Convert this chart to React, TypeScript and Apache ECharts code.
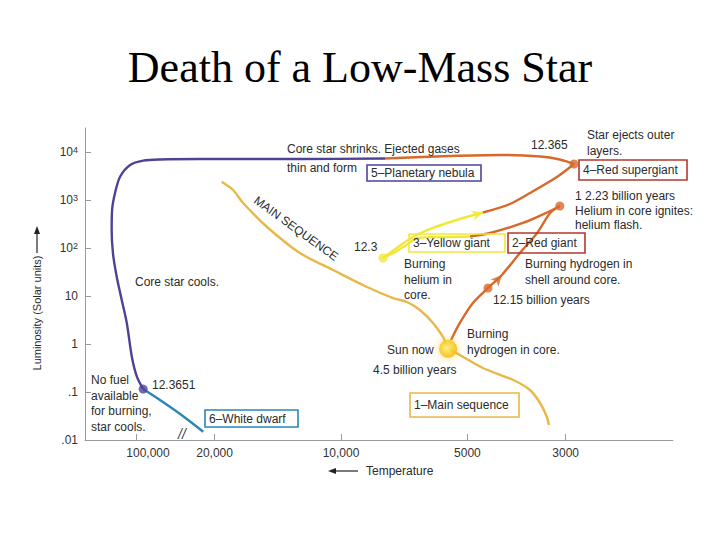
import React, { useEffect, useRef } from 'react';
import * as echarts from 'echarts';

// ---- Axis ticks (x = log10 temperature as drawn, with a break at 100,000; y = log10 luminosity)
const xTickPos = [4.488, 4.301, 4.0, 3.699, 3.465];
const xTickLabels = ['100,000', '20,000', '10,000', '5000', '3000'];
const yTickPos = [-2, -1, 0, 1, 2, 3, 4];
const yTickLabels = ['.01', '.1', '1', '10', '10{sup|2}', '10{sup|3}', '10{sup|4}'];

// ---- Tracks: [log10 T (as drawn), log10 L]
const mainSequence = [
  [4.284, 3.381], [4.257, 3.208], [4.233, 2.938], [4.176, 2.438], [4.098, 1.896],
  [4.019, 1.542], [3.938, 1.188], [3.876, 0.958], [3.843, 0.875], [3.812, 0.708],
  [3.781, 0.438], [3.757, 0.146], [3.745, -0.083], [3.717, -0.229], [3.662, -0.5],
  [3.59, -0.75], [3.55, -0.958], [3.526, -1.229], [3.51, -1.515], [3.505, -1.688],
];
const redGiantBranch = [
  [3.738, 0.083], [3.717, 0.438], [3.686, 0.854], [3.65, 1.167], [3.617, 1.438],
  [3.574, 1.896], [3.533, 2.313], [3.502, 2.729], [3.479, 2.875],
];
const flashToYellowOrange = [
  [3.479, 2.875], [3.507, 2.75], [3.567, 2.521], [3.645, 2.313], [3.693, 2.24],
];
const flashToYellowYellow = [
  [3.693, 2.24], [3.764, 2.229], [3.817, 2.208], [3.848, 2.042], [3.871, 1.917], [3.9, 1.792],
];
const yellowToSupergiantYellow = [
  [3.9, 1.792], [3.864, 2.021], [3.829, 2.229], [3.781, 2.417], [3.717, 2.604], [3.662, 2.74],
];
const yellowToSupergiantOrange = [
  [3.662, 2.74], [3.598, 2.917], [3.55, 3.146], [3.486, 3.479], [3.445, 3.75],
];
const supergiantToNebula = [
  [3.445, 3.75], [3.479, 3.844], [3.526, 3.906], [3.621, 3.938], [3.74, 3.917], [3.895, 3.865],
];
const nebulaToWhiteDwarf = [
  [3.895, 3.865], [4.098, 3.854], [4.336, 3.854], [4.431, 3.844], [4.471, 3.819],
  [4.502, 3.729], [4.526, 3.485], [4.538, 3.146], [4.545, 2.792], [4.546, 2.375],
  [4.543, 1.896], [4.534, 1.402], [4.522, 0.917], [4.51, 0.438], [4.498, -0.265],
  [4.486, -0.681], [4.471, -0.938],
];
const whiteDwarf = [[4.471, -0.938], [4.431, -1.167], [4.383, -1.458], [4.328, -1.827]];

// ---- Stage markers
const orangeDots = [[3.445, 3.75], [3.479, 2.875], [3.65, 1.167]];
const yellowDots = [[3.9, 1.792]];
const purpleDots = [[4.471, -0.938]];
const sunNow = [[3.745, -0.1]];
const yellowArrow = [[3.662, 2.74]];
const orangeArrow = [[3.617, 1.438]];

const PURPLE = '#4f4296';
const ORANGE = '#d8692a';
const GOLD = '#e8b848';
const YELLOW = '#f0e838';
const BLUE = '#2a86b8';
const DARKRED = '#b2392e';
const TXT = '#2b2b2b';
const AXIS = '#9a9a9a';
const FONT = '"Liberation Sans", Arial, sans-serif';

const txt = (x: number, y: number, text: string, extra: any = {}) => ({
  type: 'text',
  x,
  y,
  z: 20,
  silent: true,
  style: {
    text,
    fill: TXT,
    font: `12px ${FONT}`,
    align: 'left',
    verticalAlign: 'middle',
    textAlign: 'left',
    textVerticalAlign: 'middle',
    ...extra,
  },
});

const box = (x: number, y: number, w: number, h: number, color: string, label: string) => [
  {
    type: 'rect',
    z: 19,
    silent: true,
    shape: { x, y, width: w, height: h },
    style: { fill: 'rgba(0,0,0,0)', stroke: color, lineWidth: 1.6 },
  },
  txt(x + 4, y + h / 2, label),
];

function lineSeries(data: number[][], color: string, z = 2) {
  return {
    type: 'line',
    data,
    showSymbol: false,
    smooth: 0.3,
    silent: true,
    z,
    lineStyle: { color, width: 2.4 },
  };
}

export default function App() {
  const ref = useRef<HTMLDivElement>(null);

  useEffect(() => {
    if (!ref.current) return;
    const chart = echarts.init(ref.current, undefined, { renderer: 'svg' });

    const option: any = {
      animation: false,
      backgroundColor: '#ffffff',
      grid: { left: 85, right: 47, top: 128, bottom: 100, outerBoundsMode: 'none' },
      xAxis: {
        type: 'value',
        min: 3.2095,
        max: 4.6095,
        inverse: true,
        splitLine: { show: false },
        axisLine: { show: true, onZero: false, lineStyle: { color: AXIS, width: 1 } },
        axisTick: { show: true, inside: true, length: 6, customValues: xTickPos, lineStyle: { color: AXIS } },
        axisLabel: {
          customValues: xTickPos,
          margin: 7,
          color: '#333',
          fontSize: 12,
          fontFamily: FONT,
          formatter: (v: number) => {
            const i = xTickPos.findIndex((p) => Math.abs(p - v) < 1e-6);
            if (i < 0) return '';
            return i === 0 ? `{shift|${xTickLabels[i]}}` : xTickLabels[i];
          },
          rich: { shift: { padding: [0, 0, 0, 24], fontSize: 12, color: '#333', fontFamily: FONT } },
        },
      },
      yAxis: {
        type: 'value',
        min: -2,
        max: 4.5,
        splitLine: { show: false },
        axisLine: { show: true, onZero: false, lineStyle: { color: AXIS, width: 1 } },
        axisTick: { show: true, inside: true, length: 6, customValues: yTickPos, lineStyle: { color: AXIS } },
        axisLabel: {
          customValues: yTickPos,
          margin: 7,
          color: '#333',
          fontSize: 12,
          lineHeight: 14,
          fontFamily: FONT,
          formatter: (v: number) => {
            const i = yTickPos.findIndex((p) => Math.abs(p - v) < 1e-6);
            return i < 0 ? '' : yTickLabels[i];
          },
          rich: {
            sup: { fontSize: 9, lineHeight: 14, verticalAlign: 'top', color: '#333', fontFamily: FONT },
          },
        },
      },
      series: [
        lineSeries(mainSequence, GOLD, 2),
        lineSeries(redGiantBranch, ORANGE, 3),
        lineSeries(flashToYellowOrange, ORANGE, 3),
        lineSeries(flashToYellowYellow, YELLOW, 3),
        lineSeries(yellowToSupergiantYellow, YELLOW, 3),
        lineSeries(yellowToSupergiantOrange, ORANGE, 3),
        lineSeries(supergiantToNebula, ORANGE, 3),
        lineSeries(nebulaToWhiteDwarf, PURPLE, 3),
        lineSeries(whiteDwarf, BLUE, 3),
        { type: 'scatter', data: orangeDots, symbolSize: 9, z: 5, silent: true, itemStyle: { color: ORANGE } },
        { type: 'scatter', data: yellowDots, symbolSize: 9, z: 5, silent: true, itemStyle: { color: YELLOW } },
        { type: 'scatter', data: purpleDots, symbolSize: 9, z: 5, silent: true, itemStyle: { color: PURPLE } },
        {
          type: 'scatter', data: yellowArrow, symbol: 'arrow', symbolSize: [8, 11], symbolRotate: -73,
          z: 5, silent: true, itemStyle: { color: YELLOW },
        },
        {
          type: 'scatter', data: orangeArrow, symbol: 'arrow', symbolSize: [8, 11], symbolRotate: -42,
          z: 5, silent: true, itemStyle: { color: ORANGE },
        },
        {
          type: 'scatter', data: sunNow, symbolSize: 18, z: 6, silent: true,
          itemStyle: {
            color: new echarts.graphic.RadialGradient(0.45, 0.45, 0.6, [
              { offset: 0, color: '#fff8b0' },
              { offset: 0.45, color: '#fcd532' },
              { offset: 1, color: '#f2ac10' },
            ]),
            shadowBlur: 8,
            shadowColor: 'rgba(250, 200, 40, 0.8)',
          },
        },
      ],
      graphic: [
        {
          type: 'text', x: 360, y: 67, silent: true,
          style: {
            text: 'Death of a Low-Mass Star', fill: '#000',
            font: 'normal 44px "Liberation Serif", "Times New Roman", serif',
            align: 'center', verticalAlign: 'middle', textAlign: 'center', textVerticalAlign: 'middle',
          },
        },
        txt(287, 149, 'Core star shrinks. Ejected gases'),
        txt(287, 168, 'thin and form'),
        txt(531, 145, '12.365'),
        txt(587, 135, 'Star ejects outer'),
        txt(587, 151, 'layers.'),
        txt(575, 196, '1 2.23 billion years'),
        txt(575, 210.5, 'Helium in core ignites:'),
        txt(575, 225, 'helium flash.'),
        txt(354, 247, '12.3'),
        txt(404, 264, 'Burning'),
        txt(404, 279.5, 'helium in'),
        txt(404, 295, 'core.'),
        txt(525, 263.5, 'Burning hydrogen in'),
        txt(525, 279.5, 'shell around core.'),
        txt(493, 300, '12.15 billion years'),
        txt(467, 333.5, 'Burning'),
        txt(467, 350, 'hydrogen in core.'),
        txt(387, 349.5, 'Sun now'),
        txt(373, 370, '4.5 billion years'),
        txt(135, 281.5, 'Core star cools.'),
        txt(91, 380, 'No fuel'),
        txt(91, 395.5, 'available'),
        txt(91, 411, 'for burning,'),
        txt(91, 426.5, 'star cools.'),
        txt(152, 385, '12.3651'),
        {
          type: 'text', x: 296, y: 228.5, rotation: -0.627, silent: true, z: 20,
          style: {
            text: 'MAIN SEQUENCE', fill: TXT, font: `12px ${FONT}`,
            align: 'center', verticalAlign: 'middle', textAlign: 'center', textVerticalAlign: 'middle',
          },
        },
        ...box(367, 165, 114, 16, PURPLE, '5–Planetary nebula'),
        ...box(579, 160, 108, 20, DARKRED, '4–Red supergiant'),
        ...box(409, 234, 96, 18, YELLOW, '3–Yellow giant'),
        ...box(508, 233, 77, 20, DARKRED, '2–Red giant'),
        ...box(410, 393, 109, 24, GOLD, '1–Main sequence'),
        ...box(205, 410, 93, 17, BLUE, '6–White dwarf'),
        txt(182, 434, '//', { align: 'center', textAlign: 'center', font: `italic 14px ${FONT}`, fill: '#444' }),
        // y-axis title with upward arrow
        {
          type: 'text', x: 37, y: 313, rotation: Math.PI / 2, silent: true,
          style: {
            text: 'Luminosity (Solar units)', fill: TXT, font: `11px ${FONT}`,
            align: 'center', verticalAlign: 'middle', textAlign: 'center', textVerticalAlign: 'middle',
          },
        },
        { type: 'line', silent: true, shape: { x1: 37, y1: 253, x2: 37, y2: 231 }, style: { stroke: '#222', lineWidth: 1.2 } },
        { type: 'polygon', silent: true, shape: { points: [[37, 226], [34, 234], [40, 234]] }, style: { fill: '#222' } },
        // x-axis title with leftward arrow
        { type: 'line', silent: true, shape: { x1: 333, y1: 471, x2: 358, y2: 471 }, style: { stroke: '#222', lineWidth: 1.2 } },
        { type: 'polygon', silent: true, shape: { points: [[328, 471], [336, 468], [336, 474]] }, style: { fill: '#222' } },
        txt(366, 471, 'Temperature'),
      ],
    };

    chart.setOption(option);
    return () => chart.dispose();
  }, []);

  return (
    <div
      ref={ref}
      style={{ position: 'fixed', left: 0, top: 0, width: 720, height: 540, background: '#fff' }}
    />
  );
}
